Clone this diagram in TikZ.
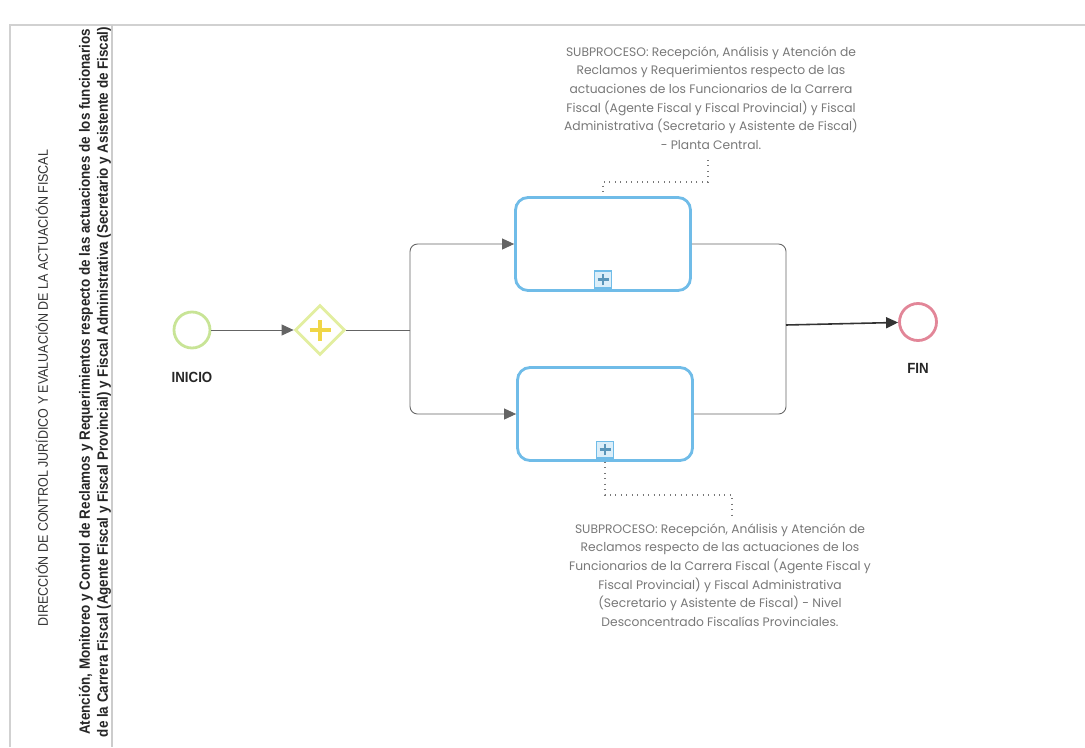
\documentclass[tikz,border=0pt]{standalone}
\usepackage{fontspec}
\setmainfont{Poppins}
\newfontfamily\lanefont[FakeStretch=0.9]{Liberation Sans}
\usepackage{tikz}
\usetikzlibrary{arrows.meta, positioning, shapes.geometric}

\begin{document}
\begin{tikzpicture}[x=0.02cm, y=-0.02cm,
    startev/.style={circle, draw=startgreen, line width=1.6pt, minimum size=0.72cm, inner sep=0pt},
    endev/.style={circle, draw=endred, line width=1.6pt, minimum size=0.74cm, inner sep=0pt},
    gateway/.style={diamond, draw=gwline, line width=1.6pt, minimum width=1cm, minimum height=1cm, inner sep=0pt},
    gwplus/.style={draw=gwplus, line width=2.4pt},
    subproc/.style={rectangle, rounded corners=2.5mm, draw=taskblue, line width=1.6pt, minimum width=3.5cm, minimum height=1.86cm},
    submark/.style={rectangle, draw=taskblue, fill=taskblue!25, line width=0.8pt, minimum size=0.34cm, inner sep=0pt},
    markplus/.style={draw=taskblue!80!black, line width=1.4pt},
    flow/.style={-{Triangle[length=2.4mm, width=2.2mm]}, draw=flowgray, line width=0.5pt, rounded corners=1.5mm},
    line/.style={draw=flowgray, line width=0.5pt, rounded corners=1.5mm},
    assoc/.style={draw=notegray, line width=0.9pt, dash pattern=on 0.5pt off 2.6pt},
    evlabel/.style={font=\lanefont\bfseries\fontsize{8.4}{10}\selectfont, text=black!85},
    note/.style={align=center, text=notegray, font=\fontsize{7}{10.6}\selectfont}]

    % Define colors
    \definecolor{startgreen}{RGB}{200,228,150}
    \definecolor{gwline}{RGB}{226,238,160}
    \definecolor{gwplus}{RGB}{240,214,70}
    \definecolor{taskblue}{RGB}{112,188,232}
    \definecolor{endred}{RGB}{226,134,152}
    \definecolor{flowgray}{RGB}{100,100,100}
    \definecolor{notegray}{RGB}{120,120,120}

    \useasboundingbox (0,0) rectangle (1085,747);

    % Pool and lane
    \draw[black!18, line width=0.8pt] (10,747) -- (10,25) -- (1085,25);
    \draw[black!20, line width=0.6pt] (112,25) -- (112,747);
    \node[rotate=90, font=\lanefont\fontsize{7.9}{9}\selectfont, text=black!80] (pool) at (42,388)
        {DIRECCIÓN DE CONTROL JURÍDICO Y EVALUACIÓN DE LA ACTUACIÓN FISCAL};
    \node[rotate=90, align=center, font=\lanefont\bfseries\fontsize{8.5}{10.2}\selectfont, text=black!85] (lane) at (95,382)
        {Atención, Monitoreo y Control de Reclamos y Requerimientos respecto de las actuaciones de los funcionarios\\
         de la Carrera Fiscal (Agente Fiscal y Fiscal Provincial) y Fiscal Administrativa (Secretario y Asistente de Fiscal)};

    % Nodes
    \node[startev] (inicio) at (192,330) {};
    \node[evlabel, below=3.4mm of inicio] (inicio-lbl) {INICIO};
    \node[gateway] (gw) at (320,330) {};
    \draw[gwplus] ([xshift=-2.1mm]gw.center) -- ([xshift=2.1mm]gw.center);
    \draw[gwplus] ([yshift=-2.1mm]gw.center) -- ([yshift=2.1mm]gw.center);

    \node[subproc] (sp1) at (603,244) {};
    \node[subproc] (sp2) at (605,414) {};
    \node[submark, above=0.6mm of sp1.south] (m1) {};
    \node[submark, above=0.6mm of sp2.south] (m2) {};
    \foreach \m in {m1, m2} {
        \draw[markplus] ([xshift=-1.1mm]\m.center) -- ([xshift=1.1mm]\m.center);
        \draw[markplus] ([yshift=-1.1mm]\m.center) -- ([yshift=1.1mm]\m.center);
    }

    \node[endev] (fin) at (918,322) {};
    \node[evlabel, below=3mm of fin] (fin-lbl) {FIN};

    % Annotations
    \node[note] (nota1) at (711,98)
        {SUBPROCESO: Recepción, Análisis y Atención de\\
         Reclamos y Requerimientos respecto de las\\
         actuaciones de los Funcionarios de la Carrera\\
         Fiscal (Agente Fiscal y Fiscal Provincial) y Fiscal\\
         Administrativa (Secretario y Asistente de Fiscal)\\
         - Planta Central.};
    \node[note] (nota2) at (720,575)
        {SUBPROCESO: Recepción, Análisis y Atención de\\
         Reclamos respecto de las actuaciones de los\\
         Funcionarios de la Carrera Fiscal (Agente Fiscal y\\
         Fiscal Provincial) y Fiscal Administrativa\\
         (Secretario y Asistente de Fiscal) - Nivel\\
         Desconcentrado Fiscalías Provinciales.};

    % Sequence flows
    \coordinate (split) at (410,330);
    \coordinate (join) at (786,325);
    \draw[flow] (inicio) -- (gw);
    \draw[line] (gw.east) -- (split);
    \draw[flow] (split) |- (sp1.west);
    \draw[flow] (split) |- (sp2.west);
    \draw[line] (sp1.east) -| (join);
    \draw[line] (sp2.east) -| (join);
    \draw[flow, line width=0.9pt, draw=black!80] (join) -- (fin);

    % Associations
    \coordinate (a1) at (708,182);
    \coordinate (a2) at (732,495);
    \draw[assoc] (708,160) -- (a1) -| (sp1.north);
    \draw[assoc] (sp2.south) |- (a2) -- (732,515);

\end{tikzpicture}
\end{document}
